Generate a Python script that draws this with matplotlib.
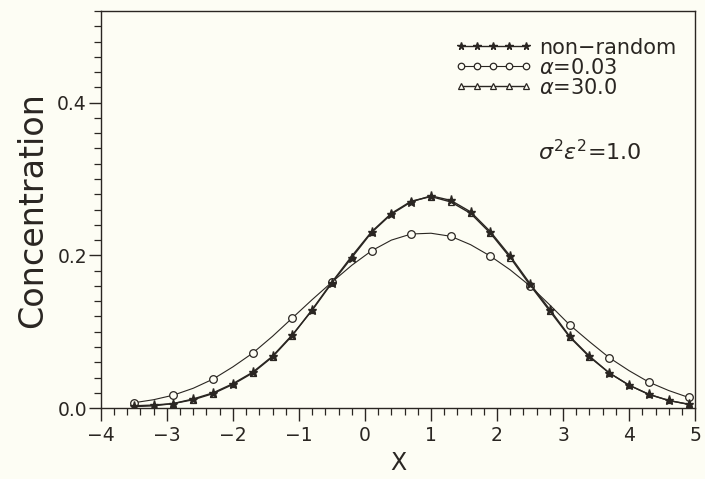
import numpy as np
import matplotlib.pyplot as plt
from matplotlib.ticker import MultipleLocator

# x positions of the plotted points (every 0.3)
x = [-3.5, -3.2, -2.9, -2.6, -2.3, -2.0, -1.7, -1.4, -1.1, -0.8,
     -0.5, -0.2, 0.1, 0.4, 0.7, 1.0, 1.3, 1.6, 1.9, 2.2,
     2.5, 2.8, 3.1, 3.4, 3.7, 4.0, 4.3, 4.6, 4.9]

# values
non_random = [0.003, 0.004, 0.006, 0.012, 0.020, 0.032, 0.047, 0.068, 0.096, 0.128,
              0.164, 0.197, 0.230, 0.254, 0.270, 0.278, 0.272, 0.257, 0.231, 0.199,
              0.163, 0.129, 0.094, 0.068, 0.046, 0.030, 0.018, 0.010, 0.005]
alpha_003 = [0.007, 0.011, 0.017, 0.026, 0.038, 0.054, 0.072, 0.094, 0.118, 0.142,
             0.165, 0.187, 0.206, 0.220, 0.228, 0.229, 0.225, 0.214, 0.199, 0.181,
             0.160, 0.135, 0.109, 0.087, 0.066, 0.049, 0.034, 0.023, 0.014]
alpha_30 = [0.002, 0.003, 0.006, 0.011, 0.019, 0.031, 0.046, 0.067, 0.095, 0.129,
            0.165, 0.199, 0.231, 0.255, 0.271, 0.277, 0.270, 0.255, 0.229, 0.197,
            0.161, 0.127, 0.093, 0.067, 0.046, 0.030, 0.018, 0.010, 0.005]

labels = ['non\u2212random', r'$\alpha$=0.03', r'$\alpha$=30.0']

bg = '#fdfdf4'
ink = '#2a2622'

fig = plt.figure(figsize=(7.05, 4.79), dpi=100, facecolor=bg)
ax = fig.add_axes([0.143, 0.148, 0.843, 0.829], facecolor=bg)

ax.plot(x, alpha_30, '-', color=ink, lw=1.0, marker='^', ms=4.5,
        mfc=bg, mec=ink, mew=0.9, label=labels[2], zorder=2)
ax.plot(x, alpha_003, '-', color=ink, lw=0.8, marker='o', ms=5.5,
        mfc=bg, mec=ink, mew=0.9, markevery=2, label=labels[1], zorder=3)
ax.plot(x, non_random, '-', color=ink, lw=1.0, marker='*', ms=6.5,
        mfc=ink, mec=ink, label=labels[0], zorder=4)

ax.set_xlim(-4, 5)
ax.set_ylim(0, 0.52)
ax.xaxis.set_major_locator(MultipleLocator(1))
ax.xaxis.set_minor_locator(MultipleLocator(0.2))
ax.yaxis.set_major_locator(MultipleLocator(0.2))
ax.yaxis.set_minor_locator(MultipleLocator(0.02))
ax.yaxis.set_major_formatter(plt.FuncFormatter(lambda v, p: f'{v:.1f}'))
ax.xaxis.set_major_formatter(plt.FuncFormatter(lambda v, p: f'{int(round(v))}'.replace('-', '\u2212')))

ax.tick_params(which='major', direction='out', length=9, width=1.0,
               colors=ink, labelsize=13.5, pad=4)
ax.tick_params(axis='y', which='major', pad=1)
ax.tick_params(which='minor', direction='out', length=5, width=0.9, colors=ink)
for s in ax.spines.values():
    s.set_color(ink)
    s.set_linewidth(1.0)

ax.set_xlabel('X', fontsize=17, color=ink, labelpad=4)
ax.set_ylabel('Concentration', fontsize=24, color=ink, labelpad=6)

# legend: reorder handles to non-random, 0.03, 30.0
h, l = ax.get_legend_handles_labels()
order = [2, 1, 0]
leg = ax.legend([h[i] for i in order], [l[i] for i in order],
                loc='upper right', bbox_to_anchor=(1.0, 0.98), frameon=False,
                numpoints=5, handlelength=3.7, handletextpad=0.35,
                labelspacing=0.0, fontsize=15, markerscale=0.85)
for t in leg.get_texts():
    t.set_color(ink)

ax.text(0.735, 0.645, r'$\sigma^2\varepsilon^2$=1.0', transform=ax.transAxes,
        fontsize=16, color=ink, va='center')

fig.savefig('out.png', dpi=100, facecolor=bg)
